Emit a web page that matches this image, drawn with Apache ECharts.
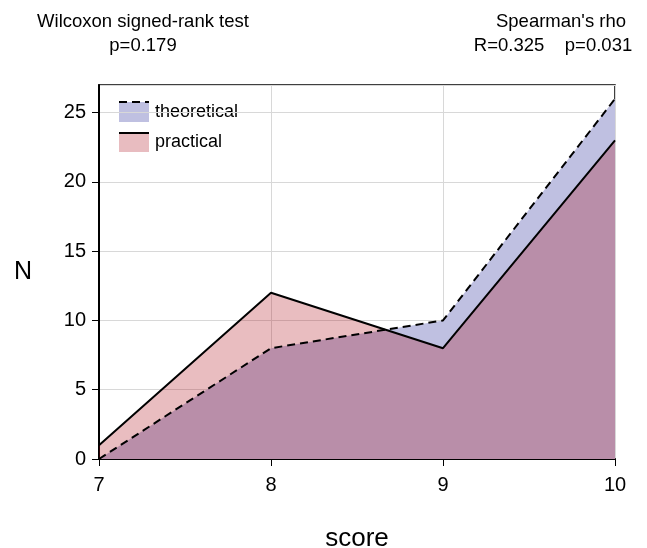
<!DOCTYPE html>
<html>
<head>
<meta charset="utf-8">
<script src="https://cdn.jsdelivr.net/npm/echarts@6/dist/echarts.min.js"></script>
<style>
  html, body { margin: 0; padding: 0; background: #fff; }
  #chart { width: 647px; height: 548px; }
</style>
</head>
<body>
<div id="chart"></div>
<script>
// scores on x, counts on y
const scores = [7, 8, 9, 10]
const theoretical = [0, 8, 10, 26]
const practical = [1, 12, 8, 23]
const xTicks = [7, 8, 9, 10]
const yTicks = [0, 5, 10, 15, 20, 25]

const font = 'Liberation Sans, Arial, sans-serif'

const chart = echarts.init(document.getElementById('chart'), null, { renderer: 'canvas' })

const pairs = (ys) => scores.map((s, i) => [s, ys[i]])

const label = (x, y, text, size, align) => ({
  type: 'text', x: x, y: y,
  style: { text: text, fontSize: size, fontFamily: font, fill: '#000', align: align || 'center', verticalAlign: 'middle' }
})

chart.setOption({
  animation: false,
  backgroundColor: '#fff',
  textStyle: { fontFamily: font },
  grid: {
    left: 99, right: 32, top: 85, bottom: 89,
    containLabel: false, outerBoundsMode: 'none',
    show: true, borderColor: '#000', borderWidth: 1.5
  },
  xAxis: {
    type: 'value',
    min: xTicks[0], max: xTicks[xTicks.length - 1], interval: 1,
    name: 'score', nameLocation: 'middle', nameGap: 67,
    nameTextStyle: { fontSize: 26, color: '#000', fontFamily: font },
    axisLine: { lineStyle: { color: '#000', width: 2 } },
    axisTick: { show: true, length: 7, lineStyle: { color: '#000' } },
    axisLabel: { fontSize: 20, color: '#000', margin: 16, fontFamily: font },
    splitLine: { show: true, lineStyle: { color: '#d8d8d8', width: 1 } }
  },
  yAxis: {
    type: 'value',
    min: 0, max: 27, interval: 5,
    name: 'N', nameLocation: 'middle', nameGap: 67, nameRotate: 0,
    nameTextStyle: { fontSize: 25, color: '#000', fontFamily: font },
    axisLine: { show: true, lineStyle: { color: '#000', width: 2 } },
    axisTick: { show: true, length: 7, lineStyle: { color: '#000' } },
    axisLabel: {
      fontSize: 20, color: '#000', margin: 13, fontFamily: font,
      showMaxLabel: false,
      formatter: (v) => (yTicks.indexOf(v) >= 0 ? String(v) : '')
    },
    splitLine: { show: true, lineStyle: { color: '#d8d8d8', width: 1 } }
  },
  series: [
    {
      name: 'theoretical',
      type: 'line',
      data: pairs(theoretical),
      showSymbol: false,
      lineStyle: { color: '#000', width: 2, type: [8, 5] },
      areaStyle: { color: '#bfc0e1', opacity: 1 }
    },
    {
      name: 'practical',
      type: 'line',
      data: pairs(practical),
      showSymbol: false,
      lineStyle: { color: '#000', width: 2 },
      areaStyle: { color: 'rgba(170, 0, 12, 0.26)', opacity: 1 }
    }
  ],
  graphic: [
    label(143, 22, 'Wilcoxon signed-rank test', 18.5),
    label(143, 46, 'p=0.179', 18.5),
    label(561, 22, "Spearman's rho", 18.5),
    label(553, 46, 'R=0.325    p=0.031', 18.5),
    // legend
    { type: 'rect', shape: { x: 119, y: 102, width: 30, height: 20 }, style: { fill: '#bfc0e1' } },
    { type: 'line', shape: { x1: 119, y1: 102, x2: 149, y2: 102 }, style: { stroke: '#000', lineWidth: 2, lineDash: [8, 5] } },
    label(155, 112, 'theoretical', 18, 'left'),
    { type: 'rect', shape: { x: 119, y: 133, width: 30, height: 19 }, style: { fill: '#e8bcc0' } },
    { type: 'line', shape: { x1: 119, y1: 133, x2: 149, y2: 133 }, style: { stroke: '#000', lineWidth: 2 } },
    label(155, 142, 'practical', 18, 'left')
  ]
})
</script>
</body>
</html>
